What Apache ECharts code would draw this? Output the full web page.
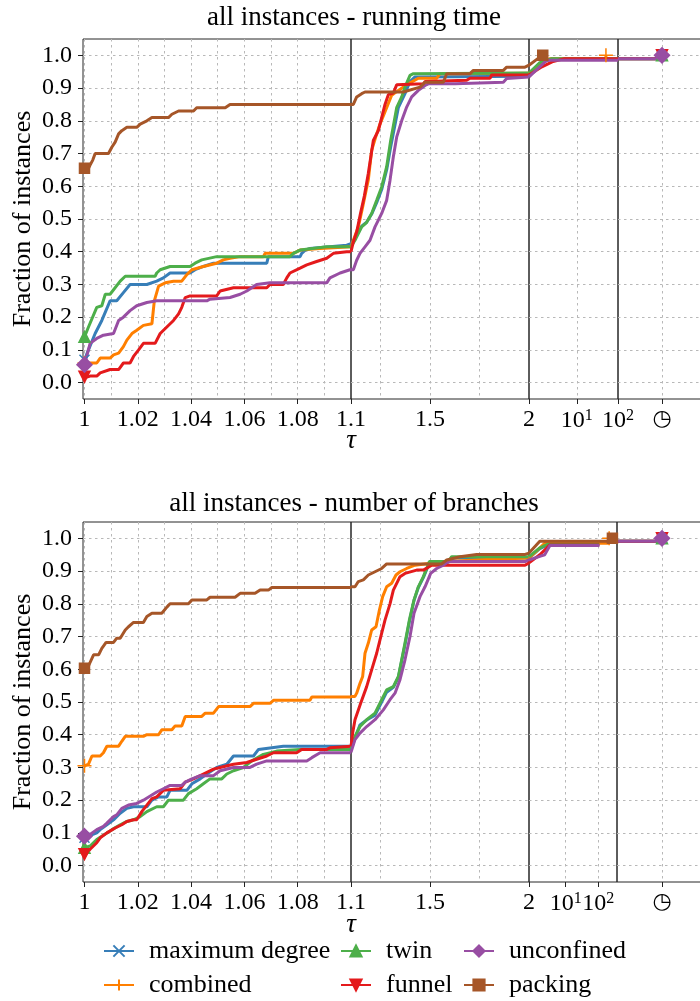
<!DOCTYPE html>
<html><head><meta charset="utf-8">
<script src="https://cdn.jsdelivr.net/npm/echarts@6/dist/echarts.min.js"></script>
<style>html,body{margin:0;padding:0;background:#fff}#c{width:700px;height:1001px}</style>
</head><body><div id="c"></div><script>
const NAMES = ['maximum degree','combined','twin','funnel','unconfined','packing'];
const COLORS = ['#377eb8','#ff7f00','#4daf4a','#e41a1c','#984ea3','#a65628'];
const SYMBOLS = ['path://M0,0L10,10M10,0L0,10','path://M5,0L5,10M0,5L10,5','triangle','triangle','diamond','rect'];
const SYMBOL_ROTATE = [0,0,0,180,0,0];
const SYMBOL_SIZE = [10,14,11,11,15,10];
const TITLES = ['all instances - running time','all instances - number of branches'];

const Y_TICKS = [0,0.1,0.2,0.3,0.4,0.5,0.6,0.7,0.8,0.9,1.0];
const SEG1_LABELS = [1,1.02,1.04,1.06,1.08,1.1];
const SEG1_GRID = [1,1.01,1.02,1.03,1.04,1.05,1.06,1.07,1.08,1.09];
const SEG2_LABELS = [1.5,2];
const SEG2_GRID = [1.25,1.5,1.75];
const SEG3_LABELS = [1,2];          // log10(tau): 10^1, 10^2
const SEG4_LABELS = [1];            // timeout column

// ---------- running time ----------
const RT_SEG1 = [
 [[1.0,0.07],[1.0015,0.10],[1.004,0.15],[1.0065,0.19],[1.0096,0.25],[1.0121,0.25],[1.0146,0.275],[1.0171,0.30],[1.0234,0.30],[1.024,0.305],[1.0271,0.31],[1.0296,0.32],[1.0321,0.335],[1.0396,0.335],[1.0415,0.345],[1.0446,0.355],[1.0484,0.365],[1.0684,0.365],[1.069,0.385],[1.0809,0.385],[1.0815,0.395],[1.0828,0.405],[1.0846,0.41],[1.0984,0.42],[1.1,0.425]],
 [[1.0,0.06],[1.0046,0.06],[1.0059,0.075],[1.0096,0.075],[1.0109,0.085],[1.0128,0.09],[1.0146,0.11],[1.0159,0.13],[1.0178,0.15],[1.0196,0.16],[1.0221,0.175],[1.0253,0.18],[1.0262,0.25],[1.0278,0.295],[1.0303,0.305],[1.0334,0.31],[1.0365,0.31],[1.0384,0.33],[1.0403,0.345],[1.0446,0.355],[1.0496,0.365],[1.0521,0.375],[1.0546,0.38],[1.0584,0.385],[1.0671,0.385],[1.0678,0.395],[1.0784,0.395],[1.0809,0.405],[1.0884,0.41],[1.1,0.415]],
 [[1.0,0.14],[1.0015,0.17],[1.0046,0.23],[1.0065,0.235],[1.0078,0.27],[1.0096,0.27],[1.0134,0.31],[1.0153,0.325],[1.0265,0.325],[1.0271,0.335],[1.0284,0.345],[1.0321,0.355],[1.0396,0.355],[1.0415,0.365],[1.044,0.375],[1.0496,0.385],[1.0771,0.385],[1.0784,0.395],[1.0809,0.405],[1.0909,0.415],[1.1,0.415]],
 [[1.0,0.015],[1.0021,0.02],[1.0046,0.02],[1.0059,0.03],[1.0096,0.04],[1.0128,0.04],[1.0146,0.06],[1.0171,0.06],[1.0184,0.08],[1.0203,0.10],[1.0221,0.12],[1.0265,0.12],[1.0284,0.15],[1.0309,0.17],[1.0334,0.19],[1.0353,0.21],[1.0365,0.23],[1.0378,0.26],[1.0396,0.265],[1.0496,0.265],[1.0509,0.28],[1.0559,0.29],[1.0684,0.29],[1.0696,0.30],[1.0746,0.30],[1.0759,0.32],[1.0771,0.335],[1.0809,0.35],[1.0834,0.36],[1.0871,0.37],[1.0909,0.38],[1.0934,0.395],[1.0984,0.40],[1.1,0.40]],
 [[1.0,0.055],[1.0021,0.12],[1.0046,0.135],[1.0071,0.145],[1.0109,0.15],[1.0128,0.19],[1.0146,0.20],[1.0171,0.22],[1.0196,0.235],[1.0234,0.245],[1.0271,0.25],[1.0459,0.25],[1.0471,0.255],[1.0546,0.26],[1.0584,0.27],[1.0609,0.28],[1.0646,0.30],[1.0696,0.305],[1.0909,0.305],[1.0921,0.32],[1.0959,0.335],[1.0996,0.345],[1.1,0.345]],
 [[1.0,0.655],[1.0015,0.655],[1.0021,0.665],[1.0031,0.68],[1.004,0.70],[1.009,0.70],[1.0103,0.72],[1.0115,0.735],[1.0128,0.76],[1.014,0.77],[1.0159,0.78],[1.0196,0.78],[1.0209,0.79],[1.0234,0.80],[1.0253,0.81],[1.0315,0.81],[1.0328,0.82],[1.0353,0.83],[1.0409,0.83],[1.0421,0.84],[1.0528,0.84],[1.0546,0.85],[1.1,0.85]]
];
const RT_SEG2 = [
 [[1.1,0.425],[1.1202,0.44],[1.1539,0.478],[1.1792,0.49],[1.2045,0.515],[1.2298,0.55],[1.2551,0.59],[1.2803,0.65],[1.3006,0.72],[1.3393,0.84],[1.373,0.883],[1.3983,0.92],[1.4236,0.934],[2.0,0.936]],
 [[1.1,0.415],[1.1371,0.476],[1.159,0.537],[1.1876,0.62],[1.2045,0.71],[1.2298,0.76],[1.2466,0.79],[1.2803,0.84],[1.3056,0.878],[1.3393,0.893],[1.3899,0.913],[1.4405,0.93],[1.5332,0.93],[1.55,0.944],[2.0,0.945]],
 [[1.1,0.415],[1.1202,0.435],[1.1539,0.476],[1.1792,0.49],[1.2045,0.517],[1.2298,0.557],[1.2551,0.598],[1.2803,0.66],[1.3006,0.74],[1.3309,0.84],[1.3562,0.873],[1.373,0.903],[1.3983,0.939],[1.4152,0.944],[2.0,0.946]],
 [[1.1,0.40],[1.1118,0.43],[1.1287,0.46],[1.1489,0.52],[1.1674,0.57],[1.1876,0.64],[1.2129,0.74],[1.2382,0.77],[1.2551,0.81],[1.2719,0.85],[1.2888,0.88],[1.3141,0.885],[1.3309,0.91],[1.4658,0.913],[1.4742,0.92],[1.6849,0.924],[1.7017,0.93],[1.8028,0.93],[1.8113,0.94],[2.0,0.94]],
 [[1.1,0.345],[1.1118,0.345],[1.1287,0.374],[1.1455,0.395],[1.1708,0.415],[1.1961,0.435],[1.2214,0.476],[1.2551,0.517],[1.2803,0.557],[1.2972,0.618],[1.3141,0.69],[1.3309,0.75],[1.3562,0.80],[1.3815,0.842],[1.4068,0.873],[1.4405,0.893],[1.4742,0.908],[1.491,0.913],[1.6259,0.913],[1.6343,0.918],[1.8703,0.918],[1.8871,0.929],[2.0,0.934]],
 [[1.1,0.85],[1.1118,0.85],[1.1287,0.873],[1.1539,0.883],[1.1708,0.888],[1.3646,0.888],[1.373,0.893],[1.4489,0.903],[1.4742,0.918],[1.5669,0.918],[1.5837,0.944],[1.7017,0.944],[1.7186,0.954],[1.8703,0.954],[1.8871,0.964],[1.9798,0.964],[2.0,0.97]]
];
// x in log10(tau) units
const RT_SEG3 = [
 [[-0.163,0.936],[0.1,0.975],[0.39,0.99],[2,0.99]],
 [[-0.163,0.945],[0.15,0.98],[0.35,0.99],[1.707,0.99],[1.707,1.0]],
 [[-0.163,0.946],[0.1,0.978],[0.39,0.99],[2,0.99]],
 [[-0.163,0.94],[0.15,0.965],[0.4,0.98],[0.7,0.99],[2,0.99]],
 [[-0.163,0.934],[0.27,0.985],[2,0.985]],
 [[-0.163,0.97],[0.05,0.99],[0.171,1.0]]
];
const RT_SEG4 = [
 [[0,0.99],[1,0.99],[1,1.0]], [], [[0,0.99],[1,0.99],[1,1.0]], [[0,0.99],[1,0.99],[1,1.0]], [[0,0.99],[1,0.99],[1,1.0]], []
];
// markers: [segment, x, y]
const RT_MARKS = [
 [[0,1,0.07],[3,1,1.0]], [[0,1,0.06],[2,1.707,1.0]], [[0,1,0.14],[3,1,1.0]],
 [[0,1,0.018],[3,1,1.0]], [[0,1,0.055],[3,1,1.0]], [[0,1,0.655],[2,0.171,1.0]]
];

// ---------- number of branches ----------
const BR_SEG1 = [
 [[1.0,0.085],[1.0015,0.09],[1.0046,0.10],[1.0059,0.11],[1.0084,0.125],[1.0109,0.14],[1.0134,0.16],[1.0159,0.175],[1.0184,0.18],[1.0234,0.18],[1.0253,0.20],[1.0278,0.21],[1.0309,0.21],[1.0321,0.23],[1.0384,0.23],[1.0403,0.25],[1.0434,0.265],[1.0459,0.28],[1.0496,0.30],[1.0534,0.31],[1.0559,0.335],[1.0634,0.335],[1.0653,0.355],[1.0746,0.365],[1.1,0.365]],
 [[1.0,0.305],[1.0015,0.31],[1.0028,0.335],[1.0059,0.335],[1.0071,0.345],[1.0084,0.365],[1.0128,0.365],[1.014,0.38],[1.0153,0.395],[1.0221,0.395],[1.0234,0.40],[1.0278,0.40],[1.029,0.415],[1.0328,0.415],[1.034,0.427],[1.0365,0.427],[1.0378,0.456],[1.044,0.456],[1.0453,0.466],[1.0484,0.466],[1.0503,0.486],[1.0621,0.486],[1.0634,0.496],[1.0696,0.496],[1.0709,0.505],[1.0846,0.505],[1.0853,0.515],[1.1,0.515]],
 [[1.0,0.055],[1.0021,0.06],[1.0046,0.08],[1.0065,0.09],[1.0084,0.10],[1.0103,0.11],[1.0134,0.125],[1.0159,0.135],[1.0184,0.14],[1.0209,0.15],[1.0234,0.165],[1.0271,0.18],[1.0296,0.18],[1.0315,0.20],[1.0371,0.20],[1.039,0.22],[1.0421,0.235],[1.0446,0.25],[1.0471,0.265],[1.0515,0.265],[1.0534,0.28],[1.0559,0.29],[1.0596,0.30],[1.0628,0.32],[1.0671,0.34],[1.0721,0.35],[1.0809,0.355],[1.1,0.355]],
 [[1.0,0.03],[1.0021,0.05],[1.0046,0.07],[1.0059,0.085],[1.0084,0.10],[1.0115,0.115],[1.014,0.125],[1.0159,0.135],[1.0184,0.14],[1.0196,0.14],[1.0215,0.165],[1.0234,0.185],[1.0253,0.205],[1.0271,0.21],[1.0296,0.23],[1.0359,0.235],[1.0378,0.255],[1.0409,0.265],[1.0446,0.28],[1.0484,0.295],[1.0509,0.30],[1.0559,0.31],[1.0609,0.315],[1.0646,0.325],[1.0684,0.335],[1.0709,0.345],[1.0796,0.345],[1.0815,0.355],[1.0909,0.355],[1.0921,0.36],[1.1,0.365]],
 [[1.0,0.09],[1.0021,0.095],[1.0046,0.11],[1.0071,0.12],[1.0084,0.13],[1.0109,0.15],[1.0121,0.155],[1.014,0.175],[1.0165,0.185],[1.0196,0.19],[1.0221,0.20],[1.0271,0.225],[1.0296,0.235],[1.0321,0.245],[1.0365,0.245],[1.0378,0.255],[1.0403,0.265],[1.0434,0.275],[1.0484,0.275],[1.0509,0.29],[1.0559,0.30],[1.0621,0.30],[1.0646,0.31],[1.0684,0.32],[1.0834,0.32],[1.0853,0.33],[1.0884,0.345],[1.1,0.345]],
 [[1.0,0.603],[1.0015,0.61],[1.0034,0.644],[1.0053,0.644],[1.0065,0.664],[1.0081,0.682],[1.0109,0.682],[1.0121,0.695],[1.0134,0.695],[1.0153,0.72],[1.0165,0.73],[1.0184,0.743],[1.0221,0.743],[1.0234,0.761],[1.0253,0.771],[1.029,0.771],[1.0309,0.79],[1.0321,0.80],[1.039,0.80],[1.0403,0.812],[1.0459,0.812],[1.0471,0.82],[1.0565,0.82],[1.0584,0.832],[1.064,0.832],[1.0659,0.842],[1.069,0.842],[1.0703,0.85],[1.1,0.85]]
];
const BR_SEG2 = [
 [[1.1,0.354],[1.1202,0.39],[1.1455,0.43],[1.1792,0.445],[1.2214,0.46],[1.2551,0.50],[1.2803,0.53],[1.3141,0.545],[1.3393,0.575],[1.3562,0.625],[1.373,0.675],[1.395,0.745],[1.4186,0.81],[1.4405,0.85],[1.4658,0.88],[1.486,0.91],[1.4961,0.925],[1.5922,0.927],[1.609,0.94],[2.0,0.94]],
 [[1.1,0.517],[1.1202,0.517],[1.1287,0.527],[1.1455,0.557],[1.159,0.578],[1.1708,0.649],[1.1876,0.68],[1.2045,0.72],[1.2264,0.73],[1.2433,0.78],[1.2601,0.822],[1.2803,0.852],[1.3056,0.863],[1.3275,0.888],[1.3478,0.898],[1.3815,0.908],[1.4236,0.918],[1.55,0.928],[1.75,0.935],[2.0,0.94]],
 [[1.1,0.356],[1.1202,0.395],[1.1455,0.425],[1.1792,0.446],[1.2214,0.466],[1.2551,0.507],[1.2803,0.537],[1.3141,0.547],[1.3393,0.578],[1.3562,0.629],[1.373,0.68],[1.395,0.75],[1.4186,0.812],[1.4405,0.852],[1.4658,0.883],[1.486,0.913],[1.4961,0.929],[1.5922,0.929],[1.609,0.944],[2.0,0.944]],
 [[1.1,0.364],[1.1084,0.405],[1.1202,0.446],[1.1489,0.496],[1.1792,0.547],[1.2045,0.598],[1.2298,0.649],[1.2466,0.69],[1.2719,0.75],[1.2972,0.80],[1.3141,0.842],[1.3478,0.883],[1.373,0.893],[1.432,0.903],[1.4658,0.903],[1.5079,0.918],[1.9798,0.918],[2.0,0.925]],
 [[1.1,0.346],[1.1202,0.385],[1.1455,0.405],[1.1792,0.425],[1.2214,0.446],[1.2635,0.476],[1.2972,0.507],[1.3225,0.527],[1.3478,0.568],[1.373,0.629],[1.3983,0.70],[1.4186,0.771],[1.4489,0.822],[1.4742,0.852],[1.5028,0.893],[1.5332,0.908],[1.5669,0.918],[1.5922,0.929],[1.9798,0.929],[2.0,0.934]],
 [[1.1,0.852],[1.1202,0.852],[1.1371,0.868],[1.1624,0.873],[1.1876,0.888],[1.2214,0.898],[1.2551,0.908],[1.2803,0.922],[1.5584,0.922],[1.5837,0.934],[1.6512,0.944],[1.7354,0.951],[1.9798,0.951],[2.0,0.955]]
];
const BR_SEG3 = [
 [[-0.12,0.94],[0.2,0.968],[0.45,0.981],[2.03,0.981]],
 [[-0.12,0.94],[0.1,0.96],[0.36,0.985],[2.33,0.985],[2.33,1.0]],
 [[-0.12,0.944],[0.2,0.97],[0.45,0.982],[2.03,0.982]],
 [[-0.12,0.925],[0.21,0.95],[0.52,0.98],[2.03,0.98]],
 [[-0.12,0.934],[0.21,0.945],[0.36,0.95],[0.52,0.978],[2.03,0.978]],
 [[-0.12,0.955],[0.21,0.991],[2.43,0.991],[2.43,1.0]]
];
const BR_SEG4 = [
 [[0,0.991],[1,0.991],[1,1.0]], [], [[0,0.991],[1,0.991],[1,1.0]], [[0,0.991],[1,0.991],[1,1.0]], [[0,0.991],[1,0.991],[1,1.0]], []
];
const BR_MARKS = [
 [[0,1,0.085],[3,1,1.0]], [[0,1,0.305],[2,2.33,1.0]], [[0,1,0.055],[3,1,1.0]],
 [[0,1,0.035],[3,1,1.0]], [[0,1,0.09],[3,1,1.0]], [[0,1,0.603],[2,2.43,1.0]]
];

// ---------- layout ----------
const FONT = 'Liberation Serif';
const GRID_LINE = {color:'#b8b8b8', width:1, type:[2.5,3.5]};
const PANELS = [
 {title: TITLES[0], top: 39, titleTop: 4, tauY: 441,
  lefts:[83,351,529,618], widths:[268,178,89,88],
  ranges:[[0.99944,1.1],[1.1,2],[-0.163,2],[0,2]],
  grids:[SEG1_GRID, SEG2_GRID, [1], [1]],
  data:[RT_SEG1, RT_SEG2, RT_SEG3, RT_SEG4], marks: RT_MARKS},
 {title: TITLES[1], top: 522, titleTop: 490, tauY: 925,
  lefts:[83,351,529,617], widths:[268,178,88,90],
  ranges:[[0.99944,1.1],[1.1,2],[-0.12,2.57],[0,2]],
  grids:[SEG1_GRID, SEG2_GRID, [1,2], [1]],
  data:[BR_SEG1, BR_SEG2, BR_SEG3, BR_SEG4], marks: BR_MARKS}
];
const LABELS = [SEG1_LABELS, SEG2_LABELS, SEG3_LABELS, SEG4_LABELS];
const PLOT_H = 360;

function xLabelFormatter(seg){
  if (seg === 2) return v => '{b|10}{s|' + Math.round(v) + '}';
  if (seg === 3) return () => '{c|\u25F7}';
  return v => String(v);
}

const grid = [], xAxis = [], yAxis = [], series = [], title = [], graphic = [];
PANELS.forEach((P, p) => {
  title.push({text: P.title, left: 354, top: P.titleTop, textAlign: 'center', padding: 0,
    textStyle: {fontFamily: FONT, fontSize: 27, fontWeight: 'normal', color: '#000'}});
  graphic.push({type:'text', x: 351, y: P.tauY, silent:true,
    style:{text:'\u03C4', fill:'#000', font:'italic 27px "Liberation Serif"', align:'center', verticalAlign:'middle'}});
  for (let s = 0; s < 4; s++) {
    const gi = grid.length;
    grid.push({left: P.lefts[s], top: P.top, width: P.widths[s], height: PLOT_H, show: true,
      borderColor: '#262626', borderWidth: 1, backgroundColor: 'transparent', containLabel: false, outerBoundsMode: 'none'});
    const [mn, mx] = P.ranges[s];
    const xa = xAxis.length;
    xAxis.push({gridIndex: gi, type: 'value', min: mn, max: mx, position: 'bottom',
      axisLine: {show: false}, axisTick: {show: false, customValues: P.grids[s]},
      axisLabel: {show: false, customValues: P.grids[s]},
      splitLine: {show: true, lineStyle: GRID_LINE}});
    xAxis.push({gridIndex: gi, type: 'value', min: mn, max: mx, position: 'bottom',
      axisLine: {show: false}, splitLine: {show: false},
      axisTick: {show: true, customValues: LABELS[s], length: 5, lineStyle: {color: '#222', width: 1}},
      axisLabel: {show: true, customValues: LABELS[s], margin: 9, hideOverlap: false,
        formatter: xLabelFormatter(s), color: '#000', fontFamily: FONT, fontSize: 24,
        rich: {b: {fontFamily: FONT, fontSize: 24, color: '#000'},
               s: {fontFamily: FONT, fontSize: 16, color: '#000', verticalAlign: 'top', padding: [0,0,10,0]},
               c: {fontFamily: 'DejaVu Sans', fontSize: 22, color: '#000'}}}});
    const ya = yAxis.length;
    yAxis.push({gridIndex: gi, type: 'value', min: -0.05, max: 1.05,
      axisLine: {show: false},
      axisTick: {show: s === 0, customValues: Y_TICKS, length: 5, lineStyle: {color: '#222'}},
      axisLabel: {show: s === 0, customValues: Y_TICKS, margin: 11, formatter: v => v.toFixed(1),
        color: '#000', fontFamily: FONT, fontSize: 24},
      splitLine: {show: true, lineStyle: GRID_LINE},
      name: s === 0 ? 'Fraction of instances' : '', nameLocation: 'middle', nameGap: 47,
      nameTextStyle: {fontFamily: FONT, fontSize: 26, color: '#000'}});
    NAMES.forEach((name, i) => {
      const d = P.data[s][i];
      if (!d.length) return;
      series.push({type: 'line', name, xAxisIndex: xa, yAxisIndex: ya, data: d,
        symbol: SYMBOLS[i], symbolRotate: SYMBOL_ROTATE[i], symbolSize: SYMBOL_SIZE[i], showSymbol: false,
        lineStyle: {color: COLORS[i], width: 3}, itemStyle: {color: COLORS[i], borderColor: COLORS[i], borderWidth: 1.5},
        silent: true, animation: false, z: 3});
    });
  }
  NAMES.forEach((name, i) => {
    P.marks[i].forEach(m => {
      const seg = m[0];
      series.push({type: 'scatter', name, xAxisIndex: (p*4+seg)*2, yAxisIndex: p*4+seg,
        data: [[m[1], m[2]]], symbol: SYMBOLS[i], symbolRotate: SYMBOL_ROTATE[i], symbolSize: SYMBOL_SIZE[i],
        itemStyle: {color: COLORS[i], borderColor: COLORS[i], borderWidth: 1.5, opacity: 1},
        clip: false, silent: true, animation: false, z: 4});
    });
  });
});

const LEG_X = [103, 340, 463], LEG_Y = [951, 985];
const legend = NAMES.map((name, i) => ({
  data: [name], left: LEG_X[Math.floor(i/2)], top: LEG_Y[i%2] - 14, orient: 'vertical',
  itemWidth: 30, itemHeight: 14, padding: 0, selectedMode: false,
  textStyle: {fontFamily: FONT, fontSize: 26, color: '#000', lineHeight: 28, padding: [0,0,0,10]}
}));

const chart = echarts.init(document.getElementById('c'), null, {renderer: 'canvas'});
chart.setOption({animation: false, backgroundColor: '#fff', title, legend, grid, xAxis, yAxis, series, graphic});
</script></body></html>
